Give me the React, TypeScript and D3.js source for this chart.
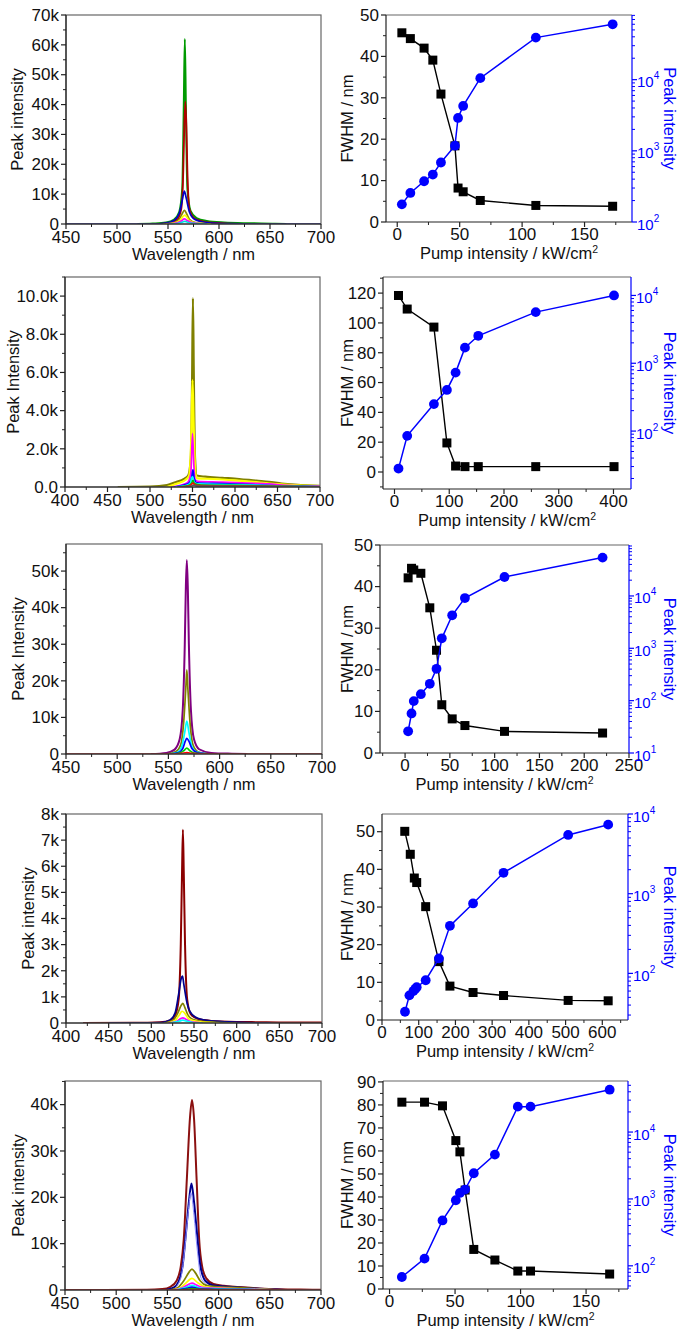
import React from "react";
import * as d3 from "d3";

type Pt = [number, number];

const FONT = "'Liberation Sans', Arial, Helvetica, sans-serif";
const BLUE = "#0000ff";

// ---------- Spectra (wavelength nm, intensity counts) ----------
// Panel 1
const l1Green: Pt[] = [[520,0],[535,150],[548,500],[556,1500],[561,4000],[564,12000],[565.5,40000],[566.5,62000],[567.5,40000],[569,12000],[572,4500],[578,2000],[588,1000],[605,500],[630,250],[655,120],[666,0]];
const l1Red: Pt[] = [[538,0],[552,400],[559,1500],[563,5000],[565,18000],[566,33000],[567,41000],[568,33000],[569,18000],[571,5000],[576,1800],[586,700],[605,200],[625,0]];
const l1Blue: Pt[] = [[450,0],[535,0],[548,300],[556,1200],[561,3500],[564,8000],[566,11000],[568,8500],[571,4000],[576,1600],[588,500],[610,100],[640,0],[700,0]];
const l1Olive: Pt[] = [[545,0],[555,400],[561,1600],[564,3500],[566,4600],[568,3600],[571,1600],[577,500],[592,0]];
const l1Yellow: Pt[] = [[548,0],[557,400],[562,1300],[565,2600],[566.5,3000],[568,2500],[571,1100],[578,300],[592,0]];
const l1Magenta: Pt[] = [[550,0],[558,300],[563,1000],[566,1700],[569,1100],[574,400],[588,0]];
const l1Cyan: Pt[] = [[552,0],[560,250],[564,600],[566.5,900],[569,600],[575,200],[588,0]];

// Panel 2
const l2Olive: Pt[] = [[462,0],[500,20],[520,100],[530,250],[540,420],[545,600],[548,1500],[549.5,5500],[550.5,9900],[551.5,6000],[553,1500],[555,600],[565,540],[585,480],[605,420],[625,330],[640,270],[655,180],[670,120],[685,80],[700,60]];
const l2Yellow: Pt[] = [[520,0],[532,180],[542,380],[546,600],[548.5,2500],[550,5600],[551.5,3000],[553.5,700],[556,450],[575,420],[600,350],[625,260],[650,150],[675,80],[700,50]];
const l2Magenta: Pt[] = [[525,0],[538,120],[544,230],[548,700],[550,2800],[551.5,1200],[553,400],[556,300],[585,260],[615,200],[640,160],[660,80],[700,30]];
const l2Blue: Pt[] = [[528,0],[540,100],[546,220],[549,500],[550.5,900],[552,450],[555,220],[585,180],[620,120],[650,60],[700,20]];
const l2Cyan: Pt[] = [[530,0],[542,80],[547,180],[550,550],[552,250],[556,160],[590,130],[630,90],[670,30],[700,10]];
const l2Green: Pt[] = [[532,0],[545,80],[549,200],[550.5,350],[552,180],[560,100],[600,80],[650,40],[700,10]];
const l2Red: Pt[] = [[535,0],[547,60],[550.5,200],[554,80],[600,50],[660,20],[700,5]];
const l2Gray: Pt[] = [[540,0],[549,50],[551,100],[555,50],[620,40],[680,20],[700,0]];

// Panel 3
const l3Purple: Pt[] = [[533,0],[548,300],[556,1200],[561,4000],[564,12000],[566,30000],[567,45000],[568,53000],[569,45000],[570,30000],[572,12000],[575,4000],[580,1300],[592,300],[612,80],[627,0]];
const l3Olive: Pt[] = [[548,0],[557,600],[562,2500],[565,9000],[567,18000],[568,23000],[569,18000],[571,9000],[574,2500],[579,600],[590,0]];
const l3Cyan: Pt[] = [[550,0],[559,500],[563,2000],[566,6000],[568,9000],[570,6000],[573,2000],[578,500],[590,0]];
const l3Blue: Pt[] = [[552,0],[560,400],[564,1500],[566.5,3500],[568,4300],[570,3500],[573,1500],[578,400],[590,0]];
const l3Green: Pt[] = [[554,0],[561,250],[565,900],[568,1600],[571,900],[575,250],[586,0]];
const l3Red: Pt[] = [[450,0],[555,0],[563,150],[568,400],[573,150],[590,30],[610,0],[700,0]];

// Panel 4
const l4Wine: Pt[] = [[420,0],[480,5],[510,30],[522,100],[528,300],[532,900],[534.5,3000],[536,5800],[537,7400],[538,5800],[539.5,3000],[542,900],[546,350],[555,150],[570,80],[600,40],[630,30],[650,20],[700,15]];
const l4Navy: Pt[] = [[450,0],[512,20],[522,120],[528,400],[532,1100],[535,1700],[536.5,1800],[538,1500],[541,900],[545,450],[552,220],[565,100],[590,40],[640,0]];
const l4Olive: Pt[] = [[515,0],[526,120],[531,380],[535,680],[537,750],[539,620],[543,300],[550,120],[570,30],[600,0]];
const l4Yellow: Pt[] = [[518,0],[528,100],[533,320],[536,450],[539,380],[544,150],[555,50],[580,0]];
const l4Magenta: Pt[] = [[520,0],[530,70],[534,160],[537,200],[540,150],[546,50],[560,0]];
const l4Cyan: Pt[] = [[522,0],[532,60],[537,110],[541,70],[550,10],[560,0]];

// Panel 5
const l5Wine: Pt[] = [[450,0],[530,30],[545,200],[553,700],[559,2000],[563,5000],[566,11000],[569,24000],[572,37000],[574,41000],[576,37000],[578.5,24000],[581,11000],[584,5000],[588,2500],[595,1300],[605,900],[620,650],[640,350],[660,180],[680,100],[700,60]];
const l5Navy: Pt[] = [[548,0],[556,500],[561,1800],[565,5500],[568,12000],[571,19000],[573.5,23000],[576,19000],[579,12000],[582,5500],[587,2000],[595,1000],[610,700],[630,400],[650,150],[665,0]];
const l5Purple: Pt[] = [[555,0],[563,2500],[567,9000],[570,16000],[573,21000],[576,16000],[579,9000],[583,2500],[592,800],[620,400],[650,0]];
const l5Olive: Pt[] = [[552,0],[560,500],[566,2000],[571,3800],[574,4500],[577,3800],[582,2000],[588,1000],[600,700],[620,500],[640,250],[660,0]];
const l5Yellow: Pt[] = [[555,0],[563,500],[568,1500],[574,2500],[580,1500],[587,700],[605,400],[640,150],[660,0]];
const l5Magenta: Pt[] = [[556,0],[564,400],[569,1000],[574,1500],[579,1000],[586,500],[610,300],[645,100],[660,0]];
const l5Cyan: Pt[] = [[558,0],[566,400],[574,1000],[582,400],[600,250],[640,80],[660,0]];
const l5Blue: Pt[] = [[560,0],[568,300],[574,600],[580,300],[600,150],[640,50],[660,0]];
const l5Green: Pt[] = [[560,0],[568,150],[574,300],[580,150],[620,60],[660,0]];
const l5Red: Pt[] = [[450,0],[560,0],[574,100],[600,50],[700,0]];

// ---------- Pump-dependence data ----------
const r1Pump = [3.7, 10.5, 21.5, 28.5, 35, 46.2, 48.7, 52.8, 66.5, 111, 172.5];
const r1Fwhm = [45.7, 44.3, 42.0, 39.1, 30.9, 18.4, 8.2, 7.3, 5.2, 4.0, 3.8];
const r1Peak = [177, 256, 374, 464, 685, 1180, 2900, 4270, 10500, 39000, 60000];

const r2Pump = [7.3, 23.2, 72, 95.7, 111.6, 128.7, 153, 258, 401];
const r2Fwhm = [118.4, 109.3, 97.2, 19.5, 4.0, 3.6, 3.6, 3.6, 3.6];
const r2Peak = [28, 85, 250, 404, 728, 1700, 2540, 5680, 10000];

const r3Pump = [3.4, 7.2, 9.7, 17.6, 27.6, 35.1, 41, 52.6, 66.8, 111, 220.5];
const r3Fwhm = [42.1, 44.4, 44.0, 43.2, 34.9, 24.7, 11.6, 8.2, 6.6, 5.2, 4.8];
const r3Peak = [26, 57, 98, 133, 210, 406, 1550, 4270, 9100, 23000, 54000];

const r4PumpF = [62, 77, 88, 94.5, 119, 155, 185, 248, 331, 507, 616];
const r4Fwhm = [50.1, 44.0, 37.7, 36.5, 30.1, 15.5, 9.0, 7.3, 6.5, 5.2, 5.1];
const r4PumpP = [62.6, 74.6, 85.5, 91, 94.5, 119, 155, 185, 248, 331, 507, 616];
const r4Peak = [33, 53, 60, 64, 67, 82, 154, 395, 755, 1830, 5460, 7350];

const r5Pump = [9.4, 26.7, 40.4, 50.6, 53.7, 57.7, 64.3, 80.4, 97.9, 107.6, 168];
const r5Fwhm = [81.2, 81.2, 79.6, 64.5, 59.6, 43.0, 17.2, 12.6, 7.8, 7.8, 6.5];
const r5Peak = [68, 128, 477, 955, 1230, 1380, 2420, 4600, 24000, 24000, 43000];

// ---------- Tick values ----------
const wlTicks450 = [450, 500, 550, 600, 650, 700];
const wlTicks400 = [400, 450, 500, 550, 600, 650, 700];
const l1YTicks = [0, 10000, 20000, 30000, 40000, 50000, 60000, 70000];
const l2YTicks = [0, 2000, 4000, 6000, 8000, 10000];
const l3YTicks = [0, 10000, 20000, 30000, 40000, 50000];
const l4YTicks = [0, 1000, 2000, 3000, 4000, 5000, 6000, 7000, 8000];
const l5YTicks = [0, 10000, 20000, 30000, 40000];

const r1XTicks = [0, 50, 100, 150];
const r1YTicks = [0, 10, 20, 30, 40, 50];
const r2XTicks = [0, 100, 200, 300, 400];
const r2YTicks = [0, 20, 40, 60, 80, 100, 120];
const r3XTicks = [0, 50, 100, 150, 200, 250];
const r3YTicks = [0, 10, 20, 30, 40, 50];
const r4XTicks = [0, 100, 200, 300, 400, 500, 600];
const r4YTicks = [0, 10, 20, 30, 40, 50];
const r5XTicks = [0, 50, 100, 150];
const r5YTicks = [0, 10, 20, 30, 40, 50, 60, 70, 80, 90];

const kFmt = (v: number) => (v === 0 ? "0" : `${v / 1000}k`);
const k1Fmt = (v: number) => (v === 0 ? "0.0" : `${(v / 1000).toFixed(1)}k`);

// ---------- helpers ----------
function minorTicks(majors: number[], domain: [number, number]): number[] {
  const step = (majors[1] - majors[0]) / 2;
  const out: number[] = [];
  const k0 = Math.ceil(domain[0] / step - 1e-9);
  const k1 = Math.floor(domain[1] / step + 1e-9);
  for (let k = k0; k <= k1; k++) {
    const v = k * step;
    if (!majors.some((m) => Math.abs(m - v) < 1e-6)) out.push(v);
  }
  return out;
}

interface Spec { pts: Pt[]; color: string; w?: number }

function XAxis({ xs, y, ticks, domain, off }: { xs: d3.ScaleLinear<number, number>; y: number; ticks: number[]; domain: [number, number]; off: number }) {
  const minor = minorTicks(ticks, domain);
  return (
    <g>
      {ticks.filter((t) => t >= domain[0] - 1e-6 && t <= domain[1] + 1e-6).map((t) => (
        <g key={"M" + t}>
          <line x1={xs(t)} x2={xs(t)} y1={y} y2={y + 5} stroke="#222" strokeWidth={1.2} />
          <text x={xs(t)} y={y + off} textAnchor="middle" fontSize={17} fontFamily={FONT} fill="#111">{t}</text>
        </g>
      ))}
      {minor.map((t) => (
        <line key={"m" + t} x1={xs(t)} x2={xs(t)} y1={y} y2={y + 3} stroke="#222" strokeWidth={1} />
      ))}
    </g>
  );
}

function YAxisLeft({ ys, x, ticks, domain, fmt }: { ys: d3.ScaleLinear<number, number>; x: number; ticks: number[]; domain: [number, number]; fmt: (v: number) => string }) {
  const minor = minorTicks(ticks, domain);
  return (
    <g>
      {ticks.map((t) => (
        <g key={"M" + t}>
          <line x1={x - 5} x2={x} y1={ys(t)} y2={ys(t)} stroke="#222" strokeWidth={1.2} />
          <text x={x - 7} y={ys(t)} dy="0.34em" textAnchor="end" fontSize={17} fontFamily={FONT} fill="#111">{fmt(t)}</text>
        </g>
      ))}
      {minor.map((t) => (
        <line key={"m" + t} x1={x - 3} x2={x} y1={ys(t)} y2={ys(t)} stroke="#222" strokeWidth={1} />
      ))}
    </g>
  );
}

function SpectrumPanel(p: {
  id: string; x0: number; x1: number; y0: number; y1: number;
  xDomain: [number, number]; yDomain: [number, number];
  xTicks: number[]; yTicks: number[]; yFmt: (v: number) => string;
  yTitle: string; yTitleX: number; spectra: Spec[];
}) {
  const xs = d3.scaleLinear().domain(p.xDomain).range([p.x0, p.x1]);
  const ys = d3.scaleLinear().domain(p.yDomain).range([p.y1, p.y0]);
  const line = d3.line<Pt>().x((d) => xs(d[0])).y((d) => ys(d[1])).curve(d3.curveMonotoneX);
  const cy = (p.y0 + p.y1) / 2;
  return (
    <g>
      <defs>
        <clipPath id={p.id}>
          <rect x={p.x0} y={p.y0 - 2} width={p.x1 - p.x0} height={p.y1 - p.y0 + 2} />
        </clipPath>
      </defs>
      <g clipPath={`url(#${p.id})`}>
        {p.spectra.map((s, i) => (
          <path key={i} d={line(s.pts) || ""} fill="none" stroke={s.color} strokeWidth={s.w ?? 1.7} strokeLinejoin="round" />
        ))}
      </g>
      <rect x={p.x0} y={p.y0} width={p.x1 - p.x0} height={p.y1 - p.y0} fill="none" stroke="#666" strokeWidth={1.2} />
      <line x1={p.x0} x2={p.x1} y1={p.y1} y2={p.y1} stroke="#222" strokeWidth={1.2} />
      <line x1={p.x0} x2={p.x0} y1={p.y0} y2={p.y1} stroke="#222" strokeWidth={1.2} />
      <XAxis xs={xs} y={p.y1} ticks={p.xTicks} domain={p.xDomain} off={19} />
      <YAxisLeft ys={ys} x={p.x0} ticks={p.yTicks} domain={p.yDomain} fmt={p.yFmt} />
      <text x={(p.x0 + p.x1) / 2} y={p.y1 + 36} textAnchor="middle" fontSize={16.5} fontFamily={FONT} fill="#111">Wavelength / nm</text>
      <text transform={`translate(${p.yTitleX},${cy}) rotate(-90)`} dy="0.35em" textAnchor="middle" fontSize={16.5} fontFamily={FONT} fill="#111">{p.yTitle}</text>
    </g>
  );
}

function PumpPanel(p: {
  x0: number; x1: number; y0: number; y1: number;
  xDomain: [number, number]; yDomain: [number, number]; logDomain: [number, number];
  xTicks: number[]; yTicks: number[];
  pumpF: number[]; fwhm: number[]; pumpP: number[]; peak: number[];
}) {
  const xs = d3.scaleLinear().domain(p.xDomain).range([p.x0, p.x1]);
  const yl = d3.scaleLinear().domain(p.yDomain).range([p.y1, p.y0]);
  const yr = d3.scaleLog().domain(p.logDomain).range([p.y1, p.y0]);
  const fPts: Pt[] = p.pumpF.map((x, i) => [x, p.fwhm[i]]);
  const pPts: Pt[] = p.pumpP.map((x, i) => [x, p.peak[i]]);
  const lineF = d3.line<Pt>().x((d) => xs(d[0])).y((d) => yl(d[1]));
  const lineP = d3.line<Pt>().x((d) => xs(d[0])).y((d) => yr(d[1]));
  const lo = Math.log10(p.logDomain[0]);
  const hi = Math.log10(p.logDomain[1]);
  const majors: number[] = [];
  for (let e = Math.ceil(lo - 1e-6); e <= Math.floor(hi + 1e-6); e++) majors.push(e);
  const minors: number[] = [];
  for (let e = Math.floor(lo); e <= Math.ceil(hi); e++) {
    for (let k = 2; k <= 9; k++) {
      const v = k * Math.pow(10, e);
      if (v >= p.logDomain[0] && v <= p.logDomain[1]) minors.push(v);
    }
  }
  const cy = (p.y0 + p.y1) / 2;
  return (
    <g>
      <line x1={p.x0} x2={p.x1} y1={p.y0} y2={p.y0} stroke="#666" strokeWidth={1.2} />
      <line x1={p.x0} x2={p.x1} y1={p.y1} y2={p.y1} stroke="#222" strokeWidth={1.2} />
      <line x1={p.x0} x2={p.x0} y1={p.y0} y2={p.y1} stroke="#222" strokeWidth={1.2} />
      <line x1={p.x1} x2={p.x1} y1={p.y0} y2={p.y1} stroke={BLUE} strokeWidth={1.2} />
      <XAxis xs={xs} y={p.y1} ticks={p.xTicks} domain={p.xDomain} off={18} />
      <YAxisLeft ys={yl} x={p.x0} ticks={p.yTicks} domain={p.yDomain} fmt={(v) => String(v)} />
      {majors.map((e) => (
        <g key={"e" + e}>
          <line x1={p.x1} x2={p.x1 + 5} y1={yr(Math.pow(10, e))} y2={yr(Math.pow(10, e))} stroke={BLUE} strokeWidth={1.2} />
          <text x={p.x1 + 5} y={yr(Math.pow(10, e))} dy="0.5em" fontSize={15} fontFamily={FONT} fill={BLUE}>
            10<tspan dy="-8" fontSize={10}>{e}</tspan>
          </text>
        </g>
      ))}
      {minors.map((v, i) => (
        <line key={"n" + i} x1={p.x1} x2={p.x1 + 3} y1={yr(v)} y2={yr(v)} stroke={BLUE} strokeWidth={1} />
      ))}
      <path d={lineF(fPts) || ""} fill="none" stroke="#000" strokeWidth={1.4} />
      {fPts.map((d, i) => (
        <rect key={"s" + i} x={xs(d[0]) - 4.5} y={yl(d[1]) - 4.5} width={9} height={9} fill="#000" />
      ))}
      <path d={lineP(pPts) || ""} fill="none" stroke={BLUE} strokeWidth={1.5} />
      {pPts.map((d, i) => (
        <circle key={"c" + i} cx={xs(d[0])} cy={yr(d[1])} r={4.9} fill={BLUE} />
      ))}
      <text x={(p.x0 + p.x1) / 2} y={p.y1 + 37} textAnchor="middle" fontSize={16.5} fontFamily={FONT} fill="#111">
        Pump intensity / kW/cm<tspan dy="-6" fontSize={10.5}>2</tspan>
      </text>
      <text transform={`translate(347,${cy}) rotate(-90)`} dy="0.35em" textAnchor="middle" fontSize={16.5} fontFamily={FONT} fill="#111">FWHM / nm</text>
      <text transform={`translate(670,${cy}) rotate(90)`} dy="0.35em" textAnchor="middle" fontSize={16.5} fontFamily={FONT} fill={BLUE}>Peak intensity</text>
    </g>
  );
}

export default function App() {
  return (
    <svg width={686} height={1341} style={{ position: "absolute", left: 0, top: 0, background: "#fff" }}>
      <rect x={0} y={0} width={686} height={1341} fill="#fff" />
      <SpectrumPanel id="c1" x0={66} x1={321} y0={15} y1={224} xDomain={[450, 700]} yDomain={[0, 70000]}
        xTicks={wlTicks450} yTicks={l1YTicks} yFmt={kFmt} yTitle="Peak intensity" yTitleX={17}
        spectra={[
          { pts: l1Green, color: "#009a00", w: 2 },
          { pts: l1Red, color: "#b00000", w: 1.8 },
          { pts: l1Blue, color: "#0000c8" },
          { pts: l1Olive, color: "#8a8a00" },
          { pts: l1Yellow, color: "#ffff00" },
          { pts: l1Magenta, color: "#ff00ff" },
          { pts: l1Cyan, color: "#00e0e0" },
        ]} />
      <SpectrumPanel id="c2" x0={65} x1={320} y0={277} y1={487} xDomain={[400, 700]} yDomain={[0, 11000]}
        xTicks={wlTicks400} yTicks={l2YTicks} yFmt={k1Fmt} yTitle="Peak Intensity" yTitleX={13}
        spectra={[
          { pts: l2Olive, color: "#808000", w: 2.2 },
          { pts: l2Yellow, color: "#ffff00", w: 2.2 },
          { pts: l2Magenta, color: "#ff00ff" },
          { pts: l2Blue, color: "#0000ff" },
          { pts: l2Cyan, color: "#00ffff" },
          { pts: l2Green, color: "#00c000" },
          { pts: l2Red, color: "#ff0000" },
          { pts: l2Gray, color: "#555555" },
        ]} />
      <SpectrumPanel id="c3" x0={66} x1={322} y0={544} y1={754} xDomain={[450, 700]} yDomain={[0, 57400]}
        xTicks={wlTicks450} yTicks={l3YTicks} yFmt={kFmt} yTitle="Peak Intensity" yTitleX={18}
        spectra={[
          { pts: l3Purple, color: "#800080", w: 2 },
          { pts: l3Olive, color: "#808000" },
          { pts: l3Cyan, color: "#00ffff" },
          { pts: l3Blue, color: "#0000ff" },
          { pts: l3Green, color: "#00d000" },
          { pts: l3Red, color: "#ff0000" },
        ]} />
      <SpectrumPanel id="c4" x0={66} x1={322} y0={814} y1={1023} xDomain={[400, 700]} yDomain={[0, 8000]}
        xTicks={wlTicks400} yTicks={l4YTicks} yFmt={kFmt} yTitle="Peak intensity" yTitleX={28}
        spectra={[
          { pts: l4Wine, color: "#8b0000", w: 2 },
          { pts: l4Navy, color: "#000090" },
          { pts: l4Olive, color: "#808000" },
          { pts: l4Yellow, color: "#ffff00" },
          { pts: l4Magenta, color: "#ff00ff" },
          { pts: l4Cyan, color: "#00ffff" },
        ]} />
      <SpectrumPanel id="c5" x0={65} x1={321} y0={1081} y1={1290} xDomain={[450, 700]} yDomain={[0, 45100]}
        xTicks={wlTicks450} yTicks={l5YTicks} yFmt={kFmt} yTitle="Peak intensity" yTitleX={18}
        spectra={[
          { pts: l5Wine, color: "#8b1010", w: 2 },
          { pts: l5Navy, color: "#000090", w: 2 },
          { pts: l5Purple, color: "#9090ff", w: 1 },
          { pts: l5Olive, color: "#808000" },
          { pts: l5Yellow, color: "#ffff00" },
          { pts: l5Magenta, color: "#ff00ff" },
          { pts: l5Cyan, color: "#00ffff" },
          { pts: l5Blue, color: "#0000ff" },
          { pts: l5Green, color: "#00c000" },
          { pts: l5Red, color: "#ff0000" },
        ]} />

      <PumpPanel x0={386} x1={632} y0={15} y1={222} xDomain={[-9, 188]} yDomain={[0, 50]} logDomain={[100, 81000]}
        xTicks={r1XTicks} yTicks={r1YTicks} pumpF={r1Pump} fwhm={r1Fwhm} pumpP={r1Pump} peak={r1Peak} />
      <PumpPanel x0={383} x1={631} y0={277} y1={489} xDomain={[-21, 432]} yDomain={[-11.4, 130.8]} logDomain={[14, 18700]}
        xTicks={r2XTicks} yTicks={r2YTicks} pumpF={r2Pump} fwhm={r2Fwhm} pumpP={r2Pump} peak={r2Peak} />
      <PumpPanel x0={380} x1={629} y0={545} y1={753} xDomain={[-28, 250]} yDomain={[0, 50]} logDomain={[10, 94000]}
        xTicks={r3XTicks} yTicks={r3YTicks} pumpF={r3Pump} fwhm={r3Fwhm} pumpP={r3Pump} peak={r3Peak} />
      <PumpPanel x0={382} x1={628} y0={814} y1={1020} xDomain={[0, 670]} yDomain={[0, 54.7]} logDomain={[26, 10000]}
        xTicks={r4XTicks} yTicks={r4YTicks} pumpF={r4PumpF} fwhm={r4Fwhm} pumpP={r4PumpP} peak={r4Peak} />
      <PumpPanel x0={383} x1={628} y0={1081} y1={1289} xDomain={[-5, 182]} yDomain={[0, 90.4]} logDomain={[45, 58000]}
        xTicks={r5XTicks} yTicks={r5YTicks} pumpF={r5Pump} fwhm={r5Fwhm} pumpP={r5Pump} peak={r5Peak} />
    </svg>
  );
}
